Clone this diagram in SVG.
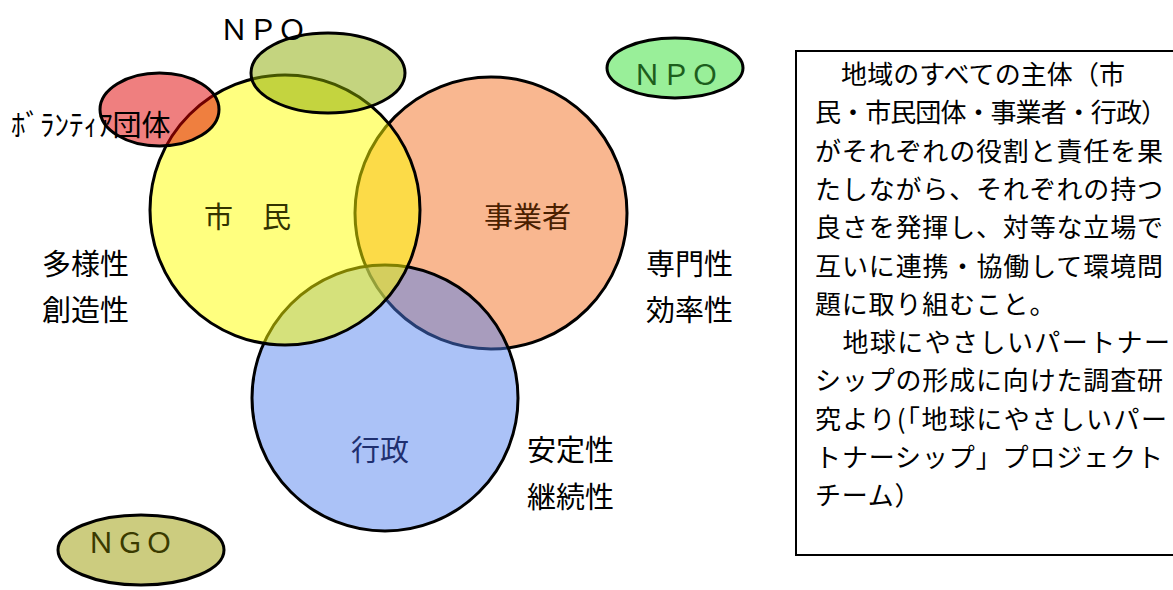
<svg xmlns="http://www.w3.org/2000/svg" width="1173" height="590" viewBox="0 0 1173 590">
<style>
.shape{stroke:#000;stroke-width:3}
.lbl{font-family:"Noto Sans CJK JP","Noto Sans",sans-serif;font-size:29px;fill:#000}
.box{font-family:"Noto Sans CJK JP","Noto Sans",sans-serif;font-size:26px;fill:#000}
.mid{text-anchor:middle}
</style>
<rect width="1173" height="590" fill="#fff"/>
<g id="jigyosha">
<circle class="shape" cx="491" cy="213" r="136" fill="#f37021" fill-opacity="0.5"/>
</g>
<g id="gyosei">
<circle class="shape" cx="385" cy="398" r="133" fill="#5080ee" fill-opacity="0.48"/>
</g>
<g id="shimin">
<circle class="shape" cx="285" cy="210" r="135" fill="#ffff00" fill-opacity="0.5"/>
</g>
<g id="volunteer">
<ellipse class="shape" cx="159.5" cy="109.5" rx="59.5" ry="36.5" fill="#e00000" fill-opacity="0.5"/>
</g>
<g id="npo-top">
<ellipse class="shape" cx="328" cy="73" rx="77" ry="40" fill="#8aaa00" fill-opacity="0.5"/>
</g>
<g id="npo-right">
<ellipse class="shape" cx="675" cy="68" rx="68" ry="30" fill="#33e033" fill-opacity="0.5"/>
<text class="lbl mid" x="676" y="85" style="fill:#1d5e1d">ＮＰＯ</text>
</g>
<g id="ngo">
<ellipse class="shape" cx="141" cy="550" rx="83" ry="35" fill="#999900" fill-opacity="0.5"/>
<text class="lbl mid" x="130" y="553" style="fill:#3a3a00">ＮＧＯ</text>
</g>
<g id="labels">
<text class="lbl mid" x="263" y="40">ＮＰＯ</text>
<text class="lbl" x="11" y="136">ﾎﾞﾗﾝﾃｨｱ団体</text>
<text class="lbl" x="204" y="228" style="fill:#333300">市　民</text>
<text class="lbl" x="484" y="228" style="fill:#4a2000">事業者</text>
<text class="lbl" x="351" y="461" style="fill:#1f2f6f">行政</text>
<text class="lbl" x="42" y="275">多様性</text>
<text class="lbl" x="42" y="321">創造性</text>
<text class="lbl" x="646" y="275">専門性</text>
<text class="lbl" x="646" y="321">効率性</text>
<text class="lbl" x="527" y="461">安定性</text>
<text class="lbl" x="527" y="508">継続性</text>
</g>
<g id="note">
<rect x="796" y="51" width="390" height="504" fill="#fff" stroke="#000" stroke-width="2"/>
<text class="box" x="815" y="84" textLength="310" lengthAdjust="spacing">　地域のすべての主体（市</text>
<text class="box" x="815" y="122.3" textLength="352" lengthAdjust="spacing">民・市民団体・事業者・行政）</text>
<text class="box" x="815" y="160.6" textLength="348" lengthAdjust="spacing">がそれぞれの役割と責任を果</text>
<text class="box" x="815" y="198.9" textLength="348" lengthAdjust="spacing">たしながら、それぞれの持つ</text>
<text class="box" x="815" y="237.2" textLength="348" lengthAdjust="spacing">良さを発揮し、対等な立場で</text>
<text class="box" x="815" y="275.5" textLength="348" lengthAdjust="spacing">互いに連携・協働して環境問</text>
<text class="box" x="815" y="313.8" letter-spacing="0.8">題に取り組むこと。</text>
<text class="box" x="815" y="352.1" textLength="355" lengthAdjust="spacing">　地球にやさしいパートナー</text>
<text class="box" x="815" y="390.4" textLength="348" lengthAdjust="spacing">シップの形成に向けた調査研</text>
<text class="box" x="815" y="428.7" textLength="352" lengthAdjust="spacing">究より(「地球にやさしいパー</text>
<text class="box" x="815" y="467" textLength="348" lengthAdjust="spacing">トナーシップ」プロジェクト</text>
<text class="box" x="815" y="505.3" letter-spacing="0.8">チーム）</text>
</g>
</svg>
